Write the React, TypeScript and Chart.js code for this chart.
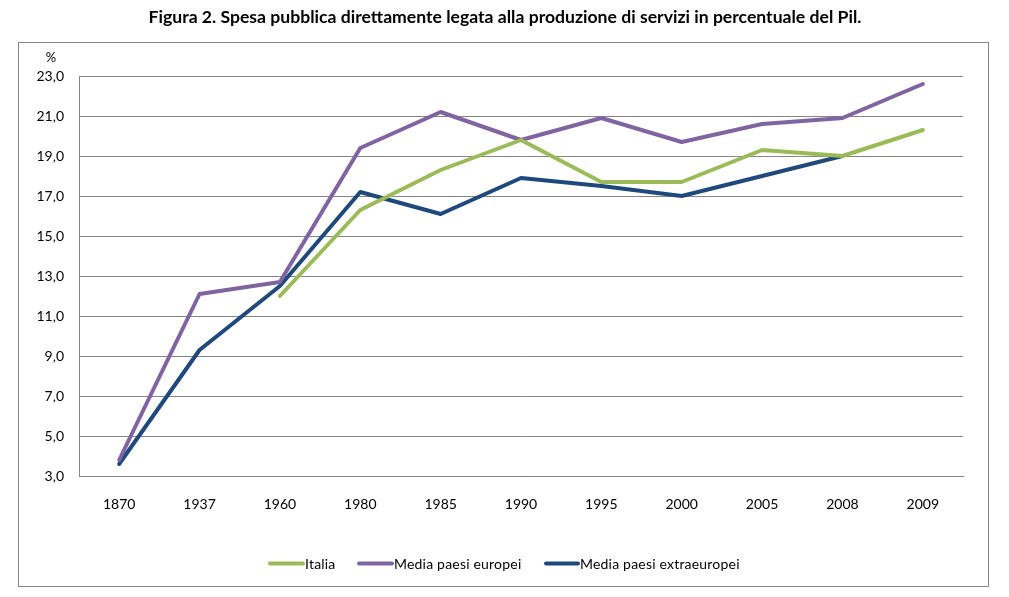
import React, { useEffect, useRef } from "react";
import { Chart, registerables } from "chart.js";

Chart.register(...registerables);

const categories = ["1870", "1937", "1960", "1980", "1985", "1990", "1995", "2000", "2005", "2008", "2009"];
const italia = [null, null, 12.0, 16.3, 18.3, 19.8, 17.7, 17.7, 19.3, 19.0, 20.3];
const europei = [3.8, 12.1, 12.7, 19.4, 21.2, 19.8, 20.9, 19.7, 20.6, 20.9, 22.6];
const extraeuropei = [3.6, 9.3, 12.5, 17.2, 16.1, 17.9, 17.5, 17.0, 18.0, 19.0, null];
const seriesNames = ["Italia", "Media paesi europei", "Media paesi extraeuropei"];
const seriesColors = ["#9BBB59", "#8064A2", "#1F497D"];
const titleText = "Figura 2. Spesa pubblica direttamente legata alla produzione di servizi in percentuale del Pil.";
const yUnit = "%";

const FONT = "Lato, 'Open Sans', sans-serif";
const GRID = "#868686";

export default function App() {
  const ref = useRef<HTMLCanvasElement | null>(null);
  useEffect(() => {
    if (!ref.current) return;
    const decor = {
      id: "decor",
      afterDraw(chart: any) {
        const ctx = chart.ctx as CanvasRenderingContext2D;
        ctx.save();
        // outer border
        ctx.strokeStyle = GRID;
        ctx.lineWidth = 1;
        ctx.strokeRect(18.5, 42.5, 970, 544);
        // title
        ctx.fillStyle = "#000";
        ctx.font = `bold 17.6px ${FONT}`;
        ctx.textAlign = "center";
        ctx.textBaseline = "middle";
        ctx.fillText(titleText, 505, 17);
        // unit
        ctx.font = `13px ${FONT}`;
        ctx.fillStyle = "#000";
        ctx.fillText(yUnit, 51, 58);
        // legend
        const items = [
          { x1: 270, x2: 303, tx: 305 },
          { x1: 359, x2: 392, tx: 394 },
          { x1: 546, x2: 578, tx: 580 },
        ];
        ctx.font = `14px ${FONT}`;
        (ctx as any).letterSpacing = "0.2px";
        ctx.textAlign = "left";
        items.forEach((it, i) => {
          ctx.strokeStyle = seriesColors[i];
          ctx.lineWidth = 4;
          ctx.lineCap = "round";
          ctx.beginPath();
          ctx.moveTo(it.x1, 563.5);
          ctx.lineTo(it.x2, 563.5);
          ctx.stroke();
          ctx.fillStyle = "#000";
          ctx.fillText(seriesNames[i], it.tx, 564);
        });
        ctx.restore();
      },
    };
    const mk = (i: number, data: (number | null)[]) => ({
      label: seriesNames[i],
      data,
      borderColor: seriesColors[i],
      backgroundColor: seriesColors[i],
      borderWidth: 4,
      pointRadius: 0,
      pointHoverRadius: 0,
      tension: 0,
      spanGaps: false,
      borderCapStyle: "round" as const,
      borderJoinStyle: "round" as const,
    });
    const chart = new Chart(ref.current, {
      type: "line",
      data: {
        labels: categories,
        datasets: [mk(0, italia), mk(1, europei), mk(2, extraeuropei)],
      },
      options: {
        animation: false,
        responsive: false,
        maintainAspectRatio: false,
        layout: { padding: { left: 0, top: 76, right: 46, bottom: 81 } },
        plugins: {
          legend: { display: false },
          title: { display: false },
          tooltip: { enabled: false },
        },
        scales: {
          x: {
            offset: true,
            grid: { display: false, drawTicks: false },
            border: { display: true, color: GRID, width: 1 },
            ticks: {
              color: "#000",
              font: { family: FONT, size: 14 },
              padding: 20,
              maxRotation: 0,
              autoSkip: false,
            },
            afterFit: (scale: any) => {
              scale.height = 40;
            },
          },
          y: {
            min: 3,
            max: 23,
            grid: { color: GRID, lineWidth: 1, drawTicks: false },
            border: { display: true, color: GRID, width: 1 },
            ticks: {
              stepSize: 2,
              color: "#000",
              font: { family: FONT, size: 14 },
              padding: 15,
              callback: (v: any) => Number(v).toFixed(1).replace(".", ","),
            },
            afterFit: (scale: any) => {
              scale.width = 79;
            },
          },
        },
      },
      plugins: [decor],
    });
    return () => chart.destroy();
  }, []);
  return (
    <div style={{ position: "fixed", left: 0, top: 0, width: 1009, height: 597, background: "#fff" }}>
      <canvas ref={ref} width={1009} height={597} style={{ display: "block" }} />
    </div>
  );
}
